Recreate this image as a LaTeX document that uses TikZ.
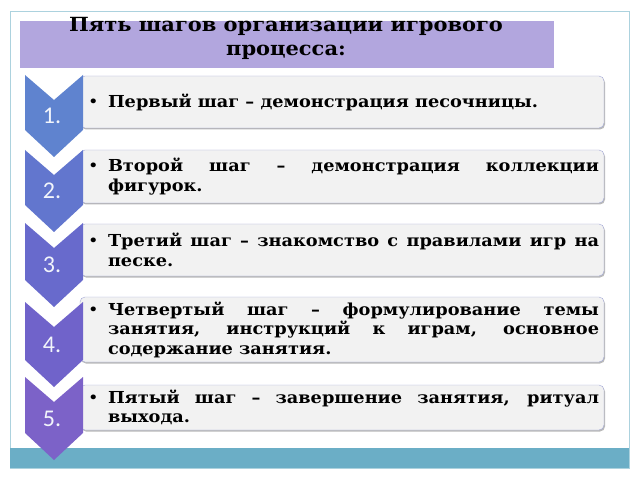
\documentclass[tikz,border=0pt]{standalone}
\usepackage{fontspec}
\setmainfont{DejaVu Serif}[FakeStretch=1.075]
\newfontfamily\numfont{Carlito}
\usetikzlibrary{shadows}

\definecolor{ramka}{RGB}{172,210,222}
\definecolor{pasek}{RGB}{107,174,198}
\definecolor{nadpis}{RGB}{178,166,222}
\definecolor{okraj}{RGB}{160,166,214}
\definecolor{vypln}{RGB}{242,242,242}
\definecolor{krok1}{RGB}{95,131,207}
\definecolor{krok2}{RGB}{98,118,206}
\definecolor{krok3}{RGB}{104,106,204}
\definecolor{krok4}{RGB}{112,99,202}
\definecolor{krok5}{RGB}{124,98,200}

\tikzstyle{stepbox}=[draw=okraj, fill=vypln, rounded corners=5pt, text width=514pt, inner xsep=5pt, inner ysep=0pt, align=justify, font=\bfseries\fontsize{16.5}{19.5}\selectfont, drop shadow={shadow xshift=1pt, shadow yshift=-1.5pt, fill=black!55}]
\tikzstyle{num}=[text=white!92!krok1, font=\numfont\fontsize{24}{24}\selectfont]

% sipka: horni okraj, vyska, barva
\newcommand\chevron[3]{\fill[#3] (25,#1) -- (54,#1-25) -- (83,#1) -- (83,#1-#2+27) -- (54,#1-#2) -- (25,#1-#2+27) -- cycle;}
% odrazka s visicim odsazenim
\newcommand\shag[1]{\hangindent=23pt\hangafter=1\noindent\makebox[23pt][l]{\hspace{3pt}\mdseries\textbullet}#1\par}

\begin{document}
\begin{tikzpicture}[x=1pt, y=1pt]
            \useasboundingbox (0,0) rectangle (640,480);

            % Ramecek a nadpis
            \draw[ramka] (10,12) rectangle (629,469);
            \fill[pasek] (10,12) rectangle (629,32);
            \fill[nadpis] (20,412) rectangle (554,459);
            \node[font=\bfseries\fontsize{19.5}{24}\selectfont, align=center] (T) at (286,442) {Пять шагов организации игрового\\процесса:};

            % Kroky
            \node[stepbox, minimum height=52pt] (S1) at (342,378) {\shag{Первый шаг – демонстрация песочницы.}};
            \node[stepbox, minimum height=53pt] (S2) at (342,303.5) {\shag{Второй шаг – демонстрация коллекции фигурок.}};
            \node[stepbox, minimum height=52pt] (S3) at (342,230) {\shag{Третий шаг – знакомство с правилами игр на песке.}};
            \node[stepbox, minimum height=65pt] (S4) at (342,150.5) {\shag{Четвертый шаг – формулирование темы занятия, инструкций к играм, основное содержание занятия.}};
            \node[stepbox, minimum height=45pt] (S5) at (342,72.5) {\shag{Пятый шаг – завершение занятия, ритуал выхода.}};

            % Sipky s cisly
            \chevron{405}{82}{krok1}
            \chevron{330}{82}{krok2}
            \chevron{257}{84}{krok3}
            \chevron{178}{85}{krok4}
            \chevron{103}{83}{krok5}
            \node[num] (N1) at (52,364) {1.};
            \node[num] (N2) at (52,289) {2.};
            \node[num] (N3) at (52,215) {3.};
            \node[num] (N4) at (52,135.5) {4.};
            \node[num] (N5) at (52,61.5) {5.};
        \end{tikzpicture}
\end{document}
